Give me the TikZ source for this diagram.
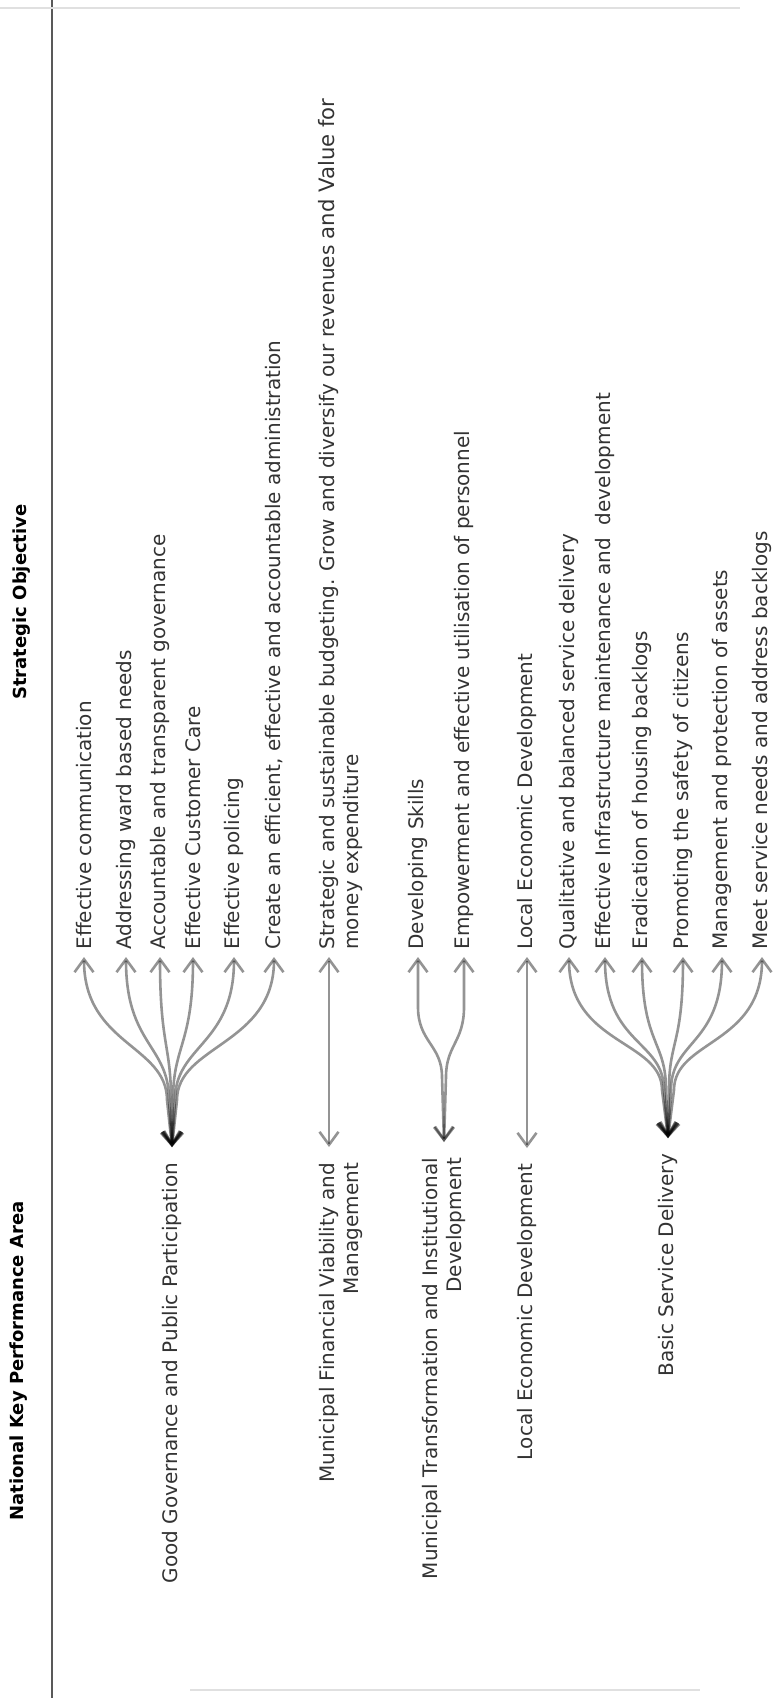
\documentclass[tikz,border=0pt]{standalone}
\usepackage{fontspec}
\setmainfont{DejaVu Sans}
\usetikzlibrary{arrows.meta,calc,positioning}

\tikzset{
    head/.style={rotate=90, font=\fontsize{9}{11}\selectfont\bfseries, text=black},
    kpa/.style={rotate=90, anchor=east, align=right, font=\fontsize{10}{12}\selectfont, text=black!80, inner sep=3pt, outer sep=5pt},
    obj/.style={rotate=90, anchor=west, align=left, font=\fontsize{10}{12}\selectfont, text=black!80, inner sep=3.5pt},
    link/.style={draw=black, draw opacity=.42, line width=1.3pt,
        {Straight Barb[length=6.5pt,width=9.5pt]}-{Straight Barb[length=6.5pt,width=9.5pt]}}
}

\begin{document}
\begin{tikzpicture}[x=0.5pt,y=-0.5pt]

    \useasboundingbox (0,0) rectangle (774,1698);
    \draw[black!65, line width=0.7pt] (52,0) -- (52,1698); % column rule
    \draw[black!12, line width=0.6pt] (0,8) -- (740,8) (190,1690) -- (700,1690);

    % Headings
    \node[head] (hobj) at (22,602) {Strategic Objective};
    \node[head] (hkpa) at (19,1361) {National Key Performance Area};

    % Key performance areas
    \node[kpa] (gg) at (172,1147) {Good Governance and Public Participation};
    \node[kpa] (mfv) at (341,1147) {Municipal Financial Viability and\\Management};
    \node[kpa] (mtid) at (444,1142) {Municipal Transformation and Institutional\\Development};
    \node[kpa] (led) at (527,1148) {Local Economic Development};
    \node[kpa] (bsd) at (668,1138) {Basic Service Delivery};

    % Strategic objectives
    \node[obj] (o1) at (84,957) {Effective communication};
    \node[obj] (o2) at (126,957) {Addressing ward based needs};
    \node[obj] (o3) at (160,957) {Accountable and transparent governance};
    \node[obj] (o4) at (193,957) {Effective Customer Care};
    \node[obj] (o5) at (234,957) {Effective policing};
    \node[obj] (o6) at (274,957) {Create an efficient, effective and accountable administration};
    \node[obj] (o7) at (341,957) {Strategic and sustainable budgeting. Grow and diversify our revenues {\fontsize{10.6}{12}\selectfont and Value for}\\money expenditure};
    \node[obj] (o8) at (418,957) {Developing Skills};
    \node[obj] (o9) at (464,957) {Empowerment and effective utilisation of personnel};
    \node[obj] (o10) at (527,957) {Local Economic Development};
    \node[obj] (o11) at (569,957) {Qualitative and balanced service delivery};
    \node[obj] (o12) at (605,957) {Effective Infrastructure maintenance and~ development};
    \node[obj] (o13) at (642,957) {Eradication of housing backlogs};
    \node[obj] (o14) at (683,957) {Promoting the safety of citizens};
    \node[obj] (o15) at (722,957) {Management and protection of assets};
    \node[obj] (o16) at (762,957) {Meet service needs and address backlogs};

    % Fans of double arrows
    \foreach \n/\d in {o1/-5,o2/-3,o3/-1,o4/1,o5/3,o6/5}
        {
        \draw[link] (gg.east) -- ++(\d,-47) .. controls +(0,-55) and ($(\n.west)+(0,88)$) .. (\n.west);
        }
    \foreach \n/\d in {o8/-2,o9/2}
        {
        \draw[link] (mtid.east) -- ++(\d,-65) .. controls +(0,-32) and ($(\n.west)+(0,85)$) .. ($(\n.west)+(0,50)$) -- (\n.west);
        }
    \foreach \n/\d in {o11/-6,o12/-4,o13/-2,o14/1,o15/3,o16/6}
        {
        \draw[link] (bsd.east) -- ++(\d,-48) .. controls +(0,-50) and ($(\n.west)+(0,88)$) .. (\n.west);
        }

    % Single arrows
    \coordinate (mfvtip) at ($(mfv.east)+(-12,0)$);
    \coordinate (o7tip) at ($(o7.west)+(-12,0)$);
    \draw[link] (mfvtip) -- (o7tip);
    \draw[link] (led.east) -- (o10.west);

\end{tikzpicture}
\end{document}
